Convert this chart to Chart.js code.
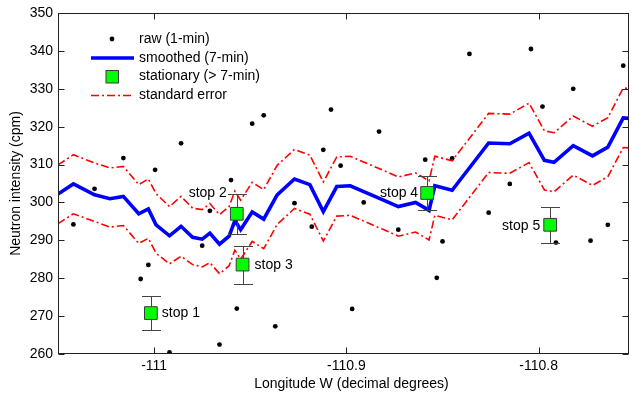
<!DOCTYPE html>
<html lang="en">
<head>
<meta charset="UTF-8">
<title>Neutron intensity vs longitude</title>
<script src="https://cdn.jsdelivr.net/npm/chart.js@4.4.0/dist/chart.umd.min.js"></script>
<style>
  html, body { margin: 0; padding: 0; background: #fff; }
  #wrap { width: 632px; height: 395px; }
</style>
</head>
<body>
<div id="wrap"><canvas id="chart" width="632" height="395"></canvas></div>
<script>
// raw 1-min counts
const rawLon = [-111.042, -111.031, -111.016, -111.007, -111.003, -110.9995, -110.992, -110.986, -110.975, -110.971,
                -110.966, -110.960, -110.957, -110.949, -110.943, -110.937, -110.927, -110.918, -110.912, -110.908,
                -110.903, -110.897, -110.891, -110.883, -110.873, -110.859, -110.853, -110.850, -110.845, -110.836,
                -110.826, -110.815, -110.804, -110.798, -110.791, -110.782, -110.773, -110.764, -110.756];
const rawCpm = [294.2, 303.6, 311.7, 279.8, 283.5, 308.6, 260.4, 315.6, 288.6, 297.8,
                262.5, 305.9, 272.0, 320.8, 323.0, 267.3, 299.8, 293.6, 313.9, 324.5,
                309.7, 271.9, 300.0, 318.7, 292.8, 311.3, 280.1, 289.7, 311.6, 339.2,
                297.3, 304.9, 340.5, 325.3, 289.4, 330.0, 289.9, 294.1, 336.1];

// 7-min smoothed track and its standard error band
const smoothLon = [-111.05, -111.042, -111.031, -111.023, -111.016, -111.008, -111.003, -110.999, -110.992, -110.986,
                   -110.980, -110.975, -110.971, -110.966, -110.961, -110.958, -110.955, -110.949, -110.943, -110.936,
                   -110.927, -110.919, -110.912, -110.905, -110.898, -110.881, -110.873, -110.864, -110.857, -110.854,
                   -110.845, -110.826, -110.815, -110.805, -110.797, -110.792, -110.782, -110.772, -110.764, -110.756,
                   -110.753];
const smoothCpm = [302.2, 304.9, 302.0, 301.0, 301.6, 297.0, 298.3, 294.1, 291.2, 293.7,
                   290.8, 290.3, 291.9, 289.0, 291.1, 295.2, 292.8, 297.5, 295.6, 302.0,
                   306.2, 304.7, 297.6, 304.2, 304.4, 300.7, 298.9, 300.0, 297.9, 304.4,
                   303.2, 315.7, 315.5, 318.3, 311.1, 310.6, 315.0, 312.3, 314.6, 322.3,
                   322.2];
const seUpper = [309.9, 312.6, 310.4, 309.1, 309.5, 304.7, 306.2, 302.3, 298.9, 301.6,
                 298.5, 298.1, 299.7, 296.8, 298.9, 303.0, 300.6, 305.3, 303.4, 309.8,
                 314.0, 312.5, 305.4, 312.0, 312.2, 308.5, 306.7, 307.8, 305.7, 312.2,
                 311.0, 323.5, 323.3, 326.2, 318.9, 318.4, 322.8, 320.1, 322.4, 330.2,
                 330.1];
const seLower = [294.4, 297.0, 295.0, 293.5, 293.9, 289.2, 290.5, 286.6, 283.8, 285.8,
                 283.6, 283.0, 284.1, 281.2, 283.3, 287.4, 285.0, 289.7, 287.8, 294.2,
                 298.4, 296.9, 289.8, 296.4, 296.6, 292.9, 291.1, 292.2, 290.1, 296.6,
                 295.4, 307.9, 307.7, 310.5, 303.3, 302.8, 307.2, 304.5, 306.8, 314.5,
                 314.4];

// stationary measurements (> 7 min)
const stopLabels = ['stop 1', 'stop 2', 'stop 3', 'stop 4', 'stop 5'];
const stopLon = [-111.0017, -110.957, -110.954, -110.858, -110.794];
const stopCpm = [270.8, 297.0, 283.6, 302.5, 294.1];
const stopErr = [4.5, 5.3, 5.0, 4.6, 4.8];

const xTicks = [-111, -110.9, -110.8];
const xTickLabels = ['-111', '-110.9', '-110.8'];
const yTicks = [260, 270, 280, 290, 300, 310, 320, 330, 340, 350];
const yTickLabels = ['260', '270', '280', '290', '300', '310', '320', '330', '340', '350'];
const xTitle = 'Longitude W (decimal degrees)';

const FONT = '"Liberation Sans", Arial, sans-serif';
const FS = 14;
const AXIS = '#222';

const pts = (xs, ys) => xs.map((v, i) => ({ x: v, y: ys[i] }));

const ornaments = {
    id: 'ornaments',
    beforeDatasetDraw(chart, args) {
        if (args.index !== 0) return;
        // error bars sit under the green squares
        const { ctx, scales: { x, y } } = chart;
        ctx.save();
        ctx.strokeStyle = '#444';
        ctx.lineWidth = 1;
        stopLon.forEach((lon, i) => {
            const px = Math.round(x.getPixelForValue(lon)) + 0.5;
            const top = Math.round(y.getPixelForValue(stopCpm[i] + stopErr[i])) + 0.5;
            const bot = Math.round(y.getPixelForValue(stopCpm[i] - stopErr[i])) + 0.5;
            ctx.beginPath();
            ctx.moveTo(px, top); ctx.lineTo(px, bot);
            ctx.moveTo(px - 9.5, top); ctx.lineTo(px + 9.5, top);
            ctx.moveTo(px - 9.5, bot); ctx.lineTo(px + 9.5, bot);
            ctx.stroke();
        });
        ctx.restore();
    },
    afterDraw(chart) {
        const { ctx, chartArea: a, scales: { x, y } } = chart;
        ctx.save();

        // box + inward ticks on all four sides
        ctx.strokeStyle = AXIS;
        ctx.lineWidth = 1;
        const L = Math.round(a.left) + 0.5, R = Math.round(a.right) - 0.5;
        const T = Math.round(a.top) + 0.5, B = Math.round(a.bottom) - 0.5;
        ctx.strokeRect(L, T, R - L, B - T);
        ctx.beginPath();
        xTicks.forEach(v => {
            const px = Math.round(x.getPixelForValue(v)) + 0.5;
            ctx.moveTo(px, B); ctx.lineTo(px, B - 6);
            ctx.moveTo(px, T); ctx.lineTo(px, T + 6);
        });
        yTicks.forEach(v => {
            const py = Math.round(y.getPixelForValue(v)) + 0.5;
            ctx.moveTo(L, py); ctx.lineTo(L + 6, py);
            ctx.moveTo(R, py); ctx.lineTo(R - 6, py);
        });
        ctx.stroke();

        ctx.font = FS + 'px ' + FONT;
        ctx.fillStyle = '#000';
        ctx.textBaseline = 'middle';

        // x title, sits a little right of the axis centre as in the original
        ctx.textAlign = 'center';
        ctx.fillText(xTitle, (a.left + a.right) / 2 + 8, 384);

        // stop labels
        const place = [[11, 0, 'left'], [-10, -21, 'right'], [12, 1, 'left'], [-9, 0, 'right'], [-10, 1, 'right']];
        stopLabels.forEach((t, i) => {
            const px = x.getPixelForValue(stopLon[i]);
            const py = y.getPixelForValue(stopCpm[i]);
            ctx.textAlign = place[i][2];
            ctx.fillText(t, px + place[i][0], py + place[i][1]);
        });

        // legend, top-left inside the axes
        const ds = chart.data.datasets;
        const lx0 = a.left + 33, lx1 = a.left + 76, mx = a.left + 54, tx = a.left + 81;
        const rows = [a.top + 26, a.top + 45, a.top + 63.5, a.top + 82.5];
        ctx.textAlign = 'left';
        // raw
        ctx.fillStyle = '#000';
        ctx.beginPath(); ctx.arc(mx, rows[0], 2.4, 0, Math.PI * 2); ctx.fill();
        // smoothed
        ctx.strokeStyle = ds[1].borderColor; ctx.lineWidth = ds[1].borderWidth;
        ctx.beginPath(); ctx.moveTo(lx0, rows[1]); ctx.lineTo(lx1, rows[1]); ctx.stroke();
        // stationary
        ctx.fillStyle = ds[0].backgroundColor; ctx.strokeStyle = ds[0].borderColor; ctx.lineWidth = 1;
        ctx.fillRect(mx - 6, rows[2] - 6, 12.5, 12.5);
        ctx.strokeRect(mx - 6, rows[2] - 6, 12.5, 12.5);
        // standard error
        ctx.strokeStyle = ds[2].borderColor; ctx.lineWidth = ds[2].borderWidth;
        ctx.setLineDash(ds[2].borderDash);
        ctx.beginPath(); ctx.moveTo(lx0, rows[3]); ctx.lineTo(lx1, rows[3]); ctx.stroke();
        ctx.setLineDash([]);
        ctx.fillStyle = '#000';
        ['raw (1-min)', 'smoothed (7-min)', 'stationary (> 7-min)', 'standard error']
            .forEach((t, i) => ctx.fillText(t, tx, rows[i]));

        ctx.restore();
    }
};

const redDash = [8, 3, 2, 3];

new Chart(document.getElementById('chart'), {
    type: 'scatter',
    data: {
        datasets: [
            {
                label: 'stationary (> 7-min)',
                data: pts(stopLon, stopCpm),
                pointStyle: 'rect',
                pointRadius: 9,
                pointHoverRadius: 9,
                backgroundColor: '#00ff00',
                borderColor: '#3a3a3a',
                borderWidth: 1,
                order: 0
            },
            {
                label: 'smoothed (7-min)',
                data: pts(smoothLon, smoothCpm),
                showLine: true,
                borderColor: '#0000ff',
                borderWidth: 3.6,
                pointRadius: 0,
                tension: 0,
                order: 1
            },
            {
                label: 'standard error',
                data: pts(smoothLon, seUpper),
                showLine: true,
                borderColor: '#ff0000',
                borderWidth: 1.6,
                borderDash: redDash,
                pointRadius: 0,
                order: 2
            },
            {
                label: 'standard error low',
                data: pts(smoothLon, seLower),
                showLine: true,
                borderColor: '#ff0000',
                borderWidth: 1.6,
                borderDash: redDash,
                pointRadius: 0,
                order: 2
            },
            {
                label: 'raw (1-min)',
                data: pts(rawLon, rawCpm),
                pointRadius: 2.4,
                pointHoverRadius: 2.4,
                backgroundColor: '#000',
                borderWidth: 0,
                order: 3
            }
        ]
    },
    options: {
        responsive: false,
        animation: false,
        events: [],
        // no auto padding for the big square markers, the box must reach the right edge
        layout: { autoPadding: false, padding: { top: 13, right: 3, left: 0, bottom: 0 } },
        plugins: { legend: { display: false }, tooltip: { enabled: false } },
        scales: {
            x: {
                type: 'linear',
                min: -111.05,
                max: -110.753,
                afterBuildTicks: s => { s.ticks = xTicks.map(v => ({ value: v })); },
                afterFit: s => { s.height = 41; s.paddingLeft = 0; s.paddingRight = 0; },
                grid: { display: false, drawTicks: false },
                border: { display: false },
                ticks: {
                    padding: 4,
                    color: '#000',
                    font: { family: FONT, size: FS },
                    maxRotation: 0,
                    callback: (v, i) => xTickLabels[i]
                },
                title: { display: false }
            },
            y: {
                type: 'linear',
                min: 260,
                max: 350,
                afterBuildTicks: s => { s.ticks = yTicks.map(v => ({ value: v })); },
                afterFit: s => { s.width = 58; s.paddingTop = 0; s.paddingBottom = 0; },
                grid: { display: false, drawTicks: false },
                border: { display: false },
                ticks: {
                    padding: 5,
                    color: '#000',
                    font: { family: FONT, size: FS },
                    callback: (v, i) => yTickLabels[i]
                },
                title: {
                    display: true,
                    text: 'Neutron intensity (cpm)',
                    color: '#000',
                    font: { family: FONT, size: FS },
                    padding: { top: 8, bottom: 0 }
                }
            }
        }
    },
    plugins: [ornaments]
});
</script>
</body>
</html>
